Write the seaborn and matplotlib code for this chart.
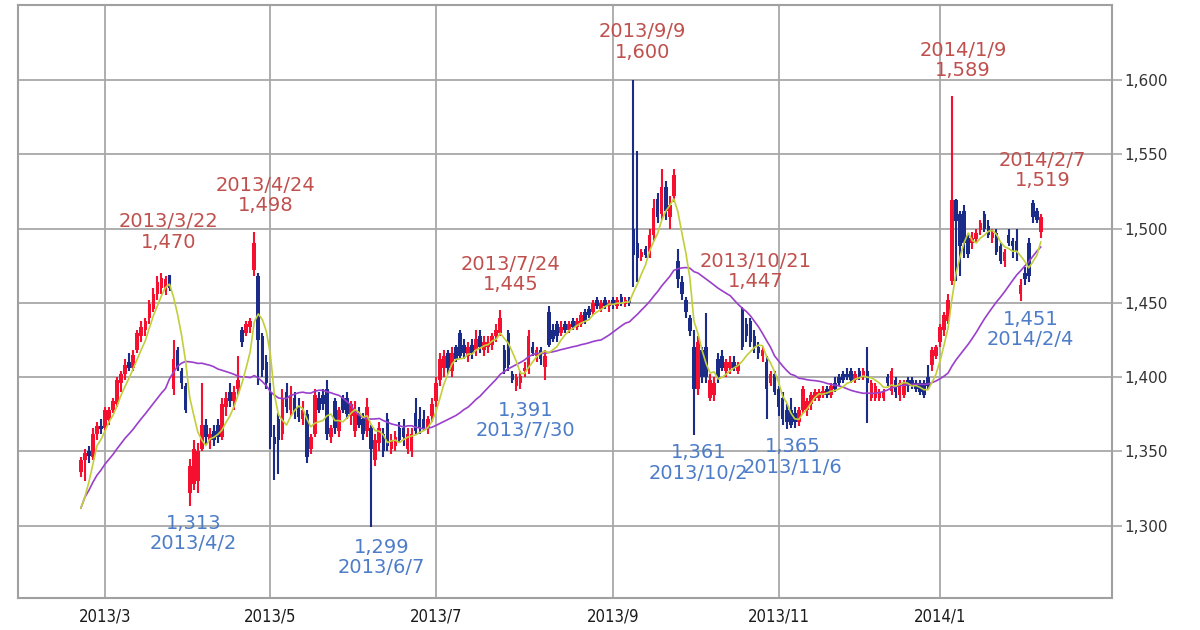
import numpy as np
import pandas as pd
import matplotlib
matplotlib.use("Agg")
import matplotlib.pyplot as plt
import seaborn as sns

# ---------------- data ----------------
start_date = "2013-02-21"
end_date = "2014-02-12"
market_holidays = ["2013-03-20", "2013-04-29", "2013-05-03", "2013-05-06", "2013-07-15",
                   "2013-09-16", "2013-09-23", "2013-10-14", "2013-11-04", "2013-12-23",
                   "2013-12-31", "2014-01-01", "2014-01-02", "2014-01-03", "2014-01-13",
                   "2014-02-11"]

prior_close = [1296, 1302, 1305]

open_ = [1336, 1344, 1350, 1346, 1362, 1367,
         1366, 1371, 1378, 1382, 1396, 1402, 1410, 1406, 1418, 1428,
         1432, 1440, 1446, 1456, 1460, 1458, 1469, 1392, 1418, 1404,
         1394, 1322, 1328, 1330, 1352, 1368, 1358, 1364, 1368, 1360,
         1380, 1390, 1384, 1392, 1432, 1430, 1434, 1472, 1468, 1428,
         1410, 1390, 1360, 1372, 1362, 1390, 1378, 1386, 1380, 1372,
         1375, 1352, 1362, 1386, 1388, 1392, 1360, 1384, 1364, 1386,
         1386, 1374, 1364, 1376, 1372, 1364, 1366, 1344, 1356, 1362,
         1372, 1352, 1354, 1366, 1366, 1352, 1350, 1376, 1372, 1372,
         1366, 1374, 1384, 1398, 1406, 1416, 1404, 1420, 1430, 1422,
         1414, 1422, 1418, 1428, 1418, 1420, 1422, 1428, 1430, 1418,
         1430, 1402, 1394, 1396, 1404, 1405, 1420, 1414, 1418, 1407,
         1444, 1432, 1436, 1430, 1436, 1432, 1438, 1434, 1436, 1444,
         1446, 1444, 1452, 1446, 1452, 1448, 1452, 1448, 1454, 1449,
         1452, 1500, 1490, 1481, 1486, 1484, 1496, 1520, 1510, 1528,
         1508, 1522, 1478, 1464, 1452, 1440, 1420, 1392, 1418, 1420,
         1386, 1388, 1412, 1414, 1404, 1406, 1410, 1404, 1446, 1436,
         1438, 1428, 1420, 1414, 1410, 1396, 1402, 1392, 1386, 1378,
         1378, 1376, 1370, 1378, 1378, 1382, 1386, 1386, 1388, 1392,
         1388, 1396, 1400, 1402, 1402, 1404, 1398, 1404, 1400, 1404,
         1386, 1386, 1386, 1386, 1400, 1391, 1398, 1388, 1388, 1398,
         1398, 1396, 1396, 1396, 1400, 1408, 1414, 1424, 1432, 1438,
         1465, 1519, 1510, 1512, 1494, 1490, 1493, 1499, 1510, 1502,
         1494, 1497, 1488, 1478, 1496, 1492, 1492, 1456, 1470, 1490,
         1517, 1512, 1498]

high = [1346, 1352, 1354, 1366, 1370, 1372,
        1380, 1380, 1386, 1400, 1404, 1412, 1416, 1418, 1432, 1438,
        1440, 1452, 1460, 1468, 1470, 1468, 1469, 1425, 1420, 1406,
        1396, 1345, 1358, 1356, 1396, 1372, 1366, 1368, 1372, 1386,
        1390, 1396, 1394, 1414, 1434, 1438, 1440, 1498, 1470, 1430,
        1415, 1396, 1368, 1376, 1392, 1396, 1394, 1390, 1386, 1384,
        1378, 1362, 1392, 1390, 1392, 1398, 1368, 1386, 1380, 1388,
        1390, 1384, 1384, 1380, 1376, 1386, 1368, 1362, 1370, 1366,
        1376, 1362, 1364, 1370, 1372, 1366, 1366, 1386, 1380, 1378,
        1374, 1386, 1400, 1416, 1418, 1418, 1420, 1422, 1432, 1426,
        1424, 1426, 1432, 1432, 1428, 1428, 1430, 1436, 1445, 1422,
        1432, 1404, 1402, 1404, 1410, 1432, 1424, 1420, 1420, 1418,
        1448, 1436, 1438, 1438, 1438, 1438, 1440, 1440, 1444, 1446,
        1448, 1452, 1454, 1452, 1454, 1452, 1454, 1454, 1456, 1454,
        1454, 1600, 1552, 1486, 1488, 1500, 1520, 1524, 1540, 1532,
        1522, 1540, 1486, 1468, 1454, 1442, 1432, 1428, 1420, 1443,
        1402, 1400, 1416, 1418, 1412, 1414, 1414, 1410, 1447, 1440,
        1440, 1432, 1424, 1420, 1414, 1404, 1404, 1394, 1390, 1382,
        1386, 1380, 1380, 1394, 1386, 1390, 1392, 1392, 1394, 1394,
        1396, 1400, 1402, 1404, 1406, 1406, 1404, 1406, 1406, 1420,
        1398, 1396, 1392, 1392, 1402, 1406, 1400, 1398, 1398, 1400,
        1400, 1398, 1398, 1398, 1408, 1420, 1422, 1436, 1444, 1456,
        1589, 1520, 1512, 1516, 1496, 1498, 1500, 1506, 1512, 1506,
        1500, 1500, 1490, 1486, 1500, 1494, 1500, 1466, 1474, 1494,
        1519, 1514, 1510]

low = [1333, 1330, 1342, 1344, 1358, 1362,
       1364, 1368, 1376, 1380, 1390, 1398, 1404, 1404, 1416, 1424,
       1428, 1436, 1444, 1452, 1456, 1455, 1458, 1388, 1404, 1392,
       1376, 1313, 1324, 1322, 1350, 1355, 1352, 1354, 1356, 1358,
       1374, 1380, 1378, 1388, 1420, 1428, 1430, 1468, 1395, 1400,
       1392, 1352, 1331, 1335, 1358, 1376, 1374, 1372, 1370, 1368,
       1342, 1348, 1360, 1376, 1378, 1358, 1356, 1362, 1360, 1376,
       1372, 1368, 1360, 1366, 1358, 1360, 1299, 1340, 1350, 1346,
       1350, 1348, 1350, 1356, 1354, 1348, 1346, 1362, 1362, 1364,
       1362, 1370, 1380, 1394, 1400, 1402, 1400, 1410, 1412, 1412,
       1410, 1412, 1414, 1416, 1414, 1416, 1418, 1424, 1428, 1402,
       1404, 1396, 1391, 1392, 1400, 1402, 1414, 1410, 1408, 1398,
       1420, 1424, 1424, 1428, 1430, 1430, 1432, 1432, 1434, 1436,
       1440, 1442, 1446, 1444, 1446, 1444, 1446, 1446, 1448, 1447,
       1448, 1461, 1464, 1478, 1480, 1480, 1492, 1504, 1506, 1506,
       1500, 1518, 1460, 1452, 1440, 1428, 1361, 1388, 1396, 1396,
       1384, 1384, 1396, 1404, 1400, 1402, 1404, 1402, 1418, 1424,
       1420, 1416, 1412, 1410, 1372, 1394, 1388, 1374, 1368, 1365,
       1366, 1366, 1367, 1376, 1374, 1378, 1384, 1384, 1386, 1386,
       1386, 1390, 1394, 1396, 1398, 1396, 1396, 1398, 1398, 1369,
       1384, 1384, 1384, 1384, 1394, 1388, 1386, 1384, 1386, 1390,
       1392, 1390, 1388, 1386, 1392, 1404, 1412, 1420, 1428, 1436,
       1462, 1465, 1468, 1480, 1480, 1486, 1490, 1496, 1498, 1494,
       1490, 1482, 1476, 1474, 1488, 1480, 1478, 1451, 1462, 1464,
       1504, 1504, 1494]

close = [1344, 1349, 1347, 1362, 1367, 1365,
         1378, 1378, 1384, 1398, 1402, 1408, 1406, 1415, 1430, 1434,
         1438, 1449, 1456, 1464, 1467, 1466, 1460, 1412, 1406, 1396,
         1378, 1340, 1352, 1350, 1368, 1360, 1362, 1358, 1360, 1382,
         1386, 1384, 1390, 1398, 1424, 1436, 1438, 1490, 1425, 1405,
         1396, 1360, 1355, 1358, 1386, 1380, 1388, 1376, 1373, 1378,
         1346, 1360, 1388, 1378, 1382, 1362, 1366, 1366, 1378, 1378,
         1375, 1382, 1378, 1368, 1362, 1380, 1352, 1358, 1366, 1350,
         1354, 1358, 1360, 1358, 1360, 1362, 1362, 1364, 1366, 1366,
         1372, 1382, 1396, 1412, 1414, 1406, 1416, 1412, 1414, 1416,
         1420, 1416, 1426, 1420, 1424, 1424, 1428, 1432, 1440, 1406,
         1408, 1398, 1400, 1401, 1406, 1428, 1416, 1418, 1412, 1414,
         1422, 1426, 1428, 1434, 1432, 1436, 1434, 1438, 1442, 1438,
         1442, 1450, 1448, 1450, 1448, 1450, 1449, 1452, 1450, 1452,
         1450, 1482, 1480, 1484, 1482, 1496, 1514, 1508, 1528, 1512,
         1516, 1536, 1466, 1456, 1444, 1431, 1392, 1424, 1400, 1400,
         1398, 1396, 1400, 1406, 1410, 1410, 1406, 1408, 1420, 1428,
         1424, 1420, 1416, 1418, 1392, 1402, 1390, 1380, 1372, 1370,
         1368, 1370, 1378, 1392, 1384, 1388, 1390, 1390, 1391, 1388,
         1394, 1392, 1396, 1398, 1400, 1398, 1402, 1400, 1404, 1396,
         1396, 1394, 1390, 1390, 1396, 1404, 1390, 1396, 1396, 1394,
         1394, 1392, 1390, 1388, 1394, 1418, 1420, 1434, 1442, 1452,
         1519, 1505, 1488, 1490, 1483, 1494, 1497, 1504, 1500, 1496,
         1497, 1484, 1478, 1484, 1490, 1488, 1484, 1462, 1466, 1468,
         1508, 1506, 1508]

month_ticks = ["2013-03-01", "2013-05-01", "2013-07-01", "2013-09-01", "2013-11-01", "2014-01-01"]
month_labels = ["2013/3", "2013/5", "2013/7", "2013/9", "2013/11", "2014/1"]
y_ticks = [1300, 1350, 1400, 1450, 1500, 1550, 1600]

peak_dates = ["2013-03-22", "2013-04-24", "2013-07-24", "2013-09-09", "2013-10-21", "2014-01-09", "2014-02-07"]
peak_text = ["2013/3/22", "2013/4/24", "2013/7/24", "2013/9/9", "2013/10/21", "2014/1/9", "2014/2/7"]
peak_values = [1470, 1498, 1445, 1600, 1447, 1589, 1519]
trough_dates = ["2013-04-02", "2013-06-07", "2013-07-30", "2013-10-02", "2013-11-06", "2014-02-04"]
trough_text = ["2013/4/2", "2013/6/7", "2013/7/30", "2013/10/2", "2013/11/6", "2014/2/4"]
trough_values = [1313, 1299, 1391, 1361, 1365, 1451]

# label offsets in pixels (style only)
peak_offsets = [(7, 41), (11, 36), (10, 36), (9, 38), (13, 36), (11, 36), (10, 30)]
trough_offsets = [(4, -27), (10, -30), (9, -30), (5, -28), (6, -28), (10, -28)]

# ---------------- build frame ----------------
dates = pd.bdate_range(start_date, end_date, freq="C", holidays=market_holidays)
n = min(len(dates), len(close))
df = pd.DataFrame({"date": dates[:n], "open": open_[:n], "high": high[:n],
                   "low": low[:n], "close": close[:n]})
df["pos"] = np.arange(n)

all_close = pd.Series(prior_close + list(df["close"]))
df["ma5"] = all_close.rolling(5, min_periods=1).mean().iloc[len(prior_close):].to_numpy()
df["ma25"] = all_close.rolling(25, min_periods=1).mean().iloc[len(prior_close):].to_numpy()


def pos_of(d):
    return int(np.searchsorted(df["date"].to_numpy(), np.datetime64(pd.Timestamp(d))))


# ---------------- style ----------------
sns.set_theme(style="white")
plt.rcParams["font.family"] = ["DejaVu Sans"]

W, H = 1200, 630
fig = plt.figure(figsize=(W / 100, H / 100), dpi=100)
fig.patch.set_facecolor("white")
ax = fig.add_axes([18 / W, 1 - 598 / H, (1112 - 18) / W, (598 - 5) / H])

RED = "#f5102f"
BLUE = "#1a2c88"
GRID = "#a8a8a8"

up = df["close"] >= df["open"]
cols = np.where(up, RED, BLUE)

ax.vlines(df["pos"], df["low"], df["high"], colors=cols, linewidth=1.5, zorder=3)
body_lo = np.minimum(df["open"], df["close"])
body_h = np.maximum(np.abs(df["close"] - df["open"]), 1.2)
ax.bar(df["pos"], body_h, bottom=body_lo, width=0.9, color=cols, linewidth=0, zorder=3)

sns.lineplot(data=df, x="pos", y="ma25", ax=ax, color="#9a3fcc", linewidth=1.2, zorder=5)
sns.lineplot(data=df, x="pos", y="ma5", ax=ax, color="#c2cf3a", linewidth=1.2, zorder=6)

# axes
px_per_day = (940 - 105) / (pos_of("2014-01-01") - pos_of("2013-03-01"))
x_left = pos_of("2013-03-01") - (105 - 18) / px_per_day
x_right = pos_of("2014-01-01") + (1112 - 940) / px_per_day
ax.set_xlim(x_left, x_right)
ax.set_ylim(1251.4, 1650.5)

ax.set_xticks([pos_of(m) for m in month_ticks])
ax.set_xticklabels(month_labels)
ax.set_yticks(y_ticks)
ax.set_yticklabels([f"{v:,}" for v in y_ticks])
ax.yaxis.tick_right()
ax.set_xlabel("")
ax.set_ylabel("")

ax.grid(True, color=GRID, linewidth=1.3, zorder=0)
ax.set_axisbelow(True)
for s in ax.spines.values():
    s.set_color("#a0a0a0")
    s.set_linewidth(1.5)

ax.tick_params(axis="y", which="both", direction="out", length=7, width=1.2, color=GRID,
               labelsize=11, labelcolor="#333333", pad=2, right=True, left=False)
ax.tick_params(axis="x", which="both", length=0, labelsize=12, labelcolor="#1a1a1a", pad=7)
for lab in ax.get_xticklabels():
    lab.set_fontstretch("condensed")

# annotations
for d, t, v, off in zip(peak_dates, peak_text, peak_values, peak_offsets):
    ax.annotate(f"{t}\n{v:,}", xy=(pos_of(d), v), xytext=off, textcoords="offset pixels",
                ha="center", va="center", fontsize=14, color="#c0504d", linespacing=1.1,
                zorder=8)
for d, t, v, off in zip(trough_dates, trough_text, trough_values, trough_offsets):
    ax.annotate(f"{v:,}\n{t}", xy=(pos_of(d), v), xytext=off, textcoords="offset pixels",
                ha="center", va="center", fontsize=14, color="#4d7cc8", linespacing=1.1,
                zorder=8)

fig.savefig("out.png", dpi=100, facecolor="white")
